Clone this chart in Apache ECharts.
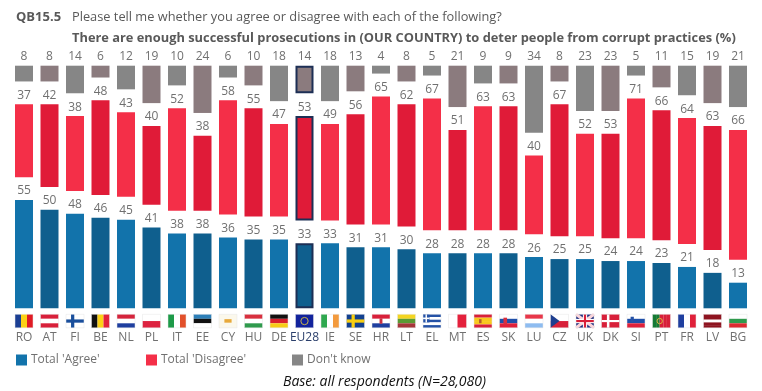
<!DOCTYPE html>
<html><head><meta charset="utf-8">
<style>html,body{margin:0;padding:0;background:#fff}#c{width:762px;height:391px}</style>
<script src="https://cdn.jsdelivr.net/npm/echarts@6/dist/echarts.min.js"></script>
</head><body><div id="c"></div>
<script>
const countries=['RO','AT','FI','BE','NL','PL','IT','EE','CY','HU','DE','EU28','IE','SE','HR','LT','EL','MT','ES','SK','LU','CZ','UK','DK','SI','PT','FR','LV','BG'];
const agree=[55,50,48,46,45,41,38,38,36,35,35,33,33,31,31,30,28,28,28,28,26,25,25,24,24,23,21,18,13];
const disagree=[37,42,38,48,43,40,52,38,58,55,47,53,49,56,65,62,67,51,63,63,40,67,52,53,71,66,64,63,66];
const dontKnow=[8,8,14,6,12,19,10,24,6,10,18,14,18,13,4,8,5,21,9,9,34,8,23,23,5,11,15,19,21];
const labelSpace=countries.map(()=>11.6);

const GREY='#707070';
const TITLE='#595959';
const palette={agree:['#1273ab','#0f5f8e'],disagree:['#f42f48','#e01b38'],dk:['#868686','#8b7b7e']};
const EU=countries.indexOf('EU28');
const styled=(vals,pal)=>vals.map((v,i)=>({value:v,itemStyle:i===EU?{color:pal[1],borderColor:'#1d2f55',borderWidth:2}:{color:pal[i%2]}}));
const barSeries=(name,vals,pal)=>({name,type:'bar',stack:'s',barWidth:18,data:styled(vals,pal),itemStyle:{color:pal[0]},
  label:{show:true,position:'top',distance:3,color:GREY,fontFamily:'Open Sans',fontSize:12},silent:true});
const spacer=()=>({name:'space',type:'bar',stack:'s',barWidth:18,data:labelSpace,itemStyle:{color:'transparent'},silent:true});

const H=c=>c.map((col,i)=>['r',0,i/c.length,1,1/c.length,col]);
const V=c=>c.map((col,i)=>['r',i/c.length,0,1/c.length,1,col]);
const cross=(bg,fg)=>[['r',0,0,1,1,bg],['r',.28,0,.18,1,fg],['r',0,.38,1,.24,fg]];
const flags={
 RO:V(['#1b3f94','#fcd116','#e01b24']),AT:H(['#d8203a','#ffffff','#d8203a']),FI:cross('#ffffff','#1a4f9c'),
 BE:V(['#111111','#fcd116','#e3223a']),NL:H(['#d5243c','#ffffff','#1f3f9f']),PL:H(['#ffffff','#dd2340']),
 IT:V(['#1d9a48','#ffffff','#e2502a']),EE:H(['#2d7fb8','#111111','#ffffff']),
 CY:[['r',0,0,1,1,'#fbf8ec'],['r',.3,.36,.4,.26,'#e8a93a']],HU:H(['#d8303f','#ffffff','#2f9a4d']),
 DE:H(['#111111','#d8202c','#f7cc16']),EU28:[['r',0,0,1,1,'#12239c'],['c',.5,.5,.27,'#c9b44a']],
 IE:V(['#2fa84f','#ffffff','#f39a3d']),SE:cross('#12408f','#f8cf10'),
 HR:[...H(['#d8203a','#ffffff','#1f3f9f']),['r',.42,.3,.16,.4,'#c83040']],LT:H(['#f4d521','#5a9a34','#a5363a']),
 EL:[...H(['#2552a6','#ffffff','#2552a6','#ffffff','#2552a6']),['r',0,0,.36,.6,'#2552a6'],['r',.14,0,.08,.6,'#ffffff'],['r',0,.24,.36,.12,'#ffffff']],
 MT:V(['#ffffff','#e4213c']),ES:[...H(['#d8203a','#f8c81c','#f8c81c','#d8203a']),['r',.28,.36,.14,.3,'#b5602a']],
 SK:[...H(['#ffffff','#1f4fa8','#e0203a']),['r',.22,.25,.2,.5,'#d8303f']],LU:H(['#e8374a','#ffffff','#8ebcf0']),
 CZ:[...H(['#ffffff','#d8203a']),['p',[[0,0],[.5,.5],[0,1]],'#1f3f8f']],
 UK:[['r',0,0,1,1,'#1f2f7f'],['l',0,0,1,1,'#fbd5da',3],['l',1,0,0,1,'#fbd5da',3],['r',.38,0,.24,1,'#ffffff'],['r',0,.34,1,.32,'#ffffff'],['r',.44,0,.12,1,'#d8203a'],['r',0,.42,1,.16,'#d8203a']],
 DK:[['r',0,0,1,1,'#d8203a'],['r',.3,0,.14,1,'#ffffff'],['r',0,.42,1,.16,'#ffffff']],
 SI:[...H(['#ffffff','#1f4fa8','#e0203a']),['r',.2,.18,.18,.4,'#2552a6']],
 PT:[...V(['#157a34','#157a34','#d8203a','#d8203a','#d8203a']),['c',.4,.5,.2,'#d9b23e']],FR:V(['#1f3f9f','#ffffff','#e0203a']),
 LV:H(['#8e1420','#8e1420','#ffffff','#8e1420','#8e1420']),BG:H(['#ffffff','#2f9a4d','#dd2a30'])
};
const FW=18,FH=13.5,FTOP=6;
function renderFlag(params,api){
  const code=countries[api.value(0)];
  const p=api.coord([api.value(0),0]);
  const x0=p[0]-FW/2,y0=p[1]+FTOP;
  const children=[];
  (flags[code]||[]).forEach(s=>{
    if(s[0]==='r')children.push({type:'rect',shape:{x:x0+s[1]*FW,y:y0+s[2]*FH,width:s[3]*FW,height:s[4]*FH},style:{fill:s[5]}});
    if(s[0]==='c')children.push({type:'circle',shape:{cx:x0+s[1]*FW,cy:y0+s[2]*FH,r:s[3]*FH},style:{fill:'none',stroke:s[4],lineWidth:1}});
    if(s[0]==='p')children.push({type:'polygon',shape:{points:s[1].map(q=>[x0+q[0]*FW,y0+q[1]*FH])},style:{fill:s[2]}});
    if(s[0]==='l')children.push({type:'line',shape:{x1:x0+s[1]*FW,y1:y0+s[2]*FH,x2:x0+s[3]*FW,y2:y0+s[4]*FH},style:{stroke:s[5],lineWidth:s[6]}});
  });
  children.push({type:'rect',shape:{x:x0,y:y0,width:FW,height:FH},style:{fill:'none',stroke:'#e4e4e4',lineWidth:.5}});
  return {type:'group',children};
}
const lg=(name,left)=>({show:true,data:[name],left,top:354,itemWidth:11,itemHeight:11,itemGap:0,padding:0,icon:'rect',selectedMode:false,
  textStyle:{color:GREY,fontFamily:'Open Sans',fontSize:12,padding:[0,0,0,-1]}});
const t=(text,left,top,extra)=>({text,left,top,padding:0,textStyle:Object.assign({color:TITLE,fontFamily:'Open Sans',fontSize:12.8,fontWeight:'normal',lineHeight:16},extra||{})});

const chart=echarts.init(document.getElementById('c'),null,{renderer:'canvas'});
chart.setOption({
  animation:false,backgroundColor:'#fff',
  title:[t('QB15.5',16,9,{fontWeight:'bold',fontSize:13}),t('Please tell me whether you agree or disagree with each of the following?',72,9),
    t('There are enough successful prosecutions in (OUR COUNTRY) to deter people from corrupt practices (%)',72,30,{fontWeight:'bold',fontSize:12.85}),
    t('Base: all respondents (N=28,080)',283,374,{color:'#111',fontStyle:'italic',fontFamily:'Open Sans',fontSize:14})],
  legend:[lg("Total 'Agree'",16),lg("Total 'Disagree'",146),lg("Don't know",292)],
  grid:{left:11.25,width:739.5,top:65.7,height:242.6},
  xAxis:{type:'category',data:countries,axisLine:{show:false},axisTick:{show:false},
    axisLabel:{interval:0,margin:23,fontFamily:'Open Sans',fontSize:12,color:(v)=>v==='EU28'?'#2b3f6b':GREY}},
  yAxis:{type:'value',min:0,max:123.2,show:false,splitLine:{show:false}},
  series:[
    barSeries("Total 'Agree'",agree,palette.agree),spacer(),
    barSeries("Total 'Disagree'",disagree,palette.disagree),spacer(),
    barSeries("Don't know",dontKnow,palette.dk),
    {type:'custom',name:'flags',data:countries.map((c,i)=>[i,0]),renderItem:renderFlag,silent:true,clip:false,z:5}
  ]
});
</script></body></html>
